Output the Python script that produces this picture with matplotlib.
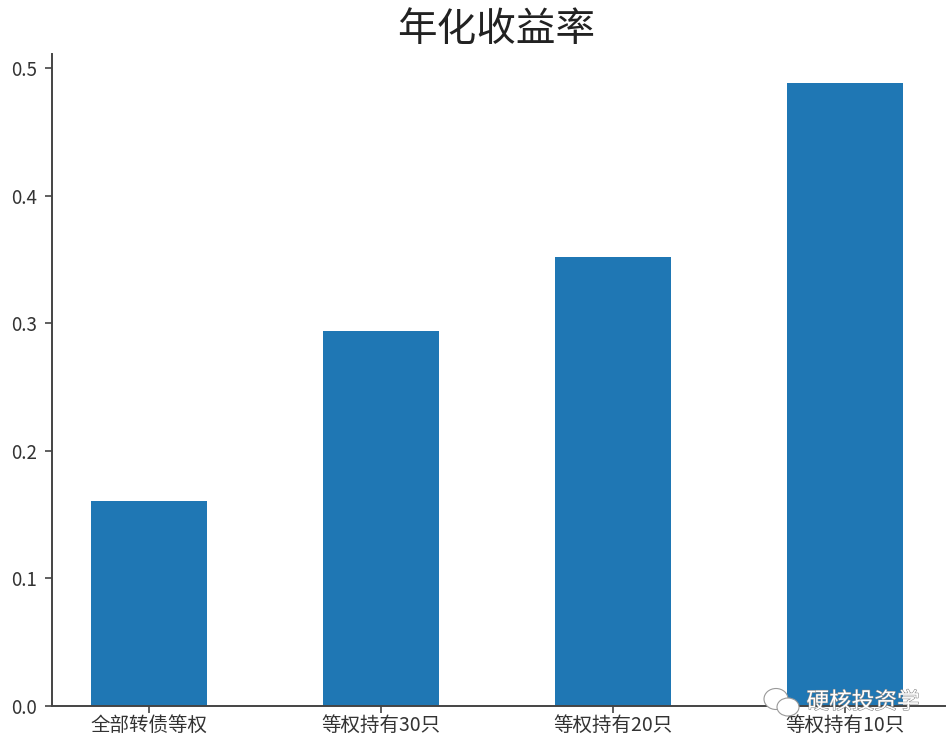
import matplotlib
matplotlib.use('Agg')
import matplotlib.pyplot as plt
import matplotlib.patheffects as pe
from matplotlib.patches import Ellipse

plt.rcParams['font.family'] = ['Noto Sans CJK SC', 'DejaVu Sans']

LABELS = ['全部转债等权', '等权持有30只', '等权持有20只', '等权持有10只']
RETURNS = [0.1605, 0.294, 0.352, 0.488]
YTICKS = [0.0, 0.1, 0.2, 0.3, 0.4, 0.5]
TITLE = '年化收益率'
WATERMARK = '硬核投资学'

W, H = 952, 745
L, R, T, B = 52, 945, 54, 706  # axes box in pixels

fig = plt.figure(figsize=(W / 100, H / 100), dpi=100)
ax = fig.add_axes([L / W, 1 - B / H, (R - L) / W, (B - T) / H])

ax.bar(range(len(RETURNS)), RETURNS, width=0.5, color='#1f77b4')
ax.set_xlim(-0.418, 3.431)
ax.set_ylim(0, 0.511)
ax.set_xticks(range(len(LABELS)))
ax.set_xticklabels(LABELS, fontsize=14, color='#333333')
ax.set_yticks(YTICKS)
ax.set_yticklabels(['%.1f' % v for v in YTICKS], fontsize=13.5, color='#333333')
ax.tick_params(axis='both', length=5, width=1.2, color='#444444')
ax.tick_params(axis='y', pad=6)
ax.tick_params(axis='x', pad=1.5)
ax.spines['top'].set_visible(False)
ax.spines['right'].set_visible(False)
ax.spines['left'].set_linewidth(1.4)
ax.spines['bottom'].set_linewidth(1.4)
ax.spines['left'].set_color('#444444')
ax.spines['bottom'].set_color('#444444')

fig.text(496 / W, 1 - 30 / H, TITLE, fontsize=28.5, color='#222222', ha='center', va='center')

# watermark: wechat bubbles plus outlined name, sits over the last bar and the axis
halo = [pe.withStroke(linewidth=0.8, foreground='#888888')]
fig.text(863 / W, 1 - 702 / H, WATERMARK, fontsize=16.3, color='white', ha='center', va='center',
         path_effects=halo, zorder=10)
for cx, cy, w, h in [(776, 699, 24, 21), (788, 707, 22, 18)]:
    fig.add_artist(Ellipse((cx / W, 1 - cy / H), w / W, h / H, transform=fig.transFigure,
                           facecolor='white', edgecolor='#999999', linewidth=0.8, zorder=9))

fig.savefig('out.png', dpi=100)
